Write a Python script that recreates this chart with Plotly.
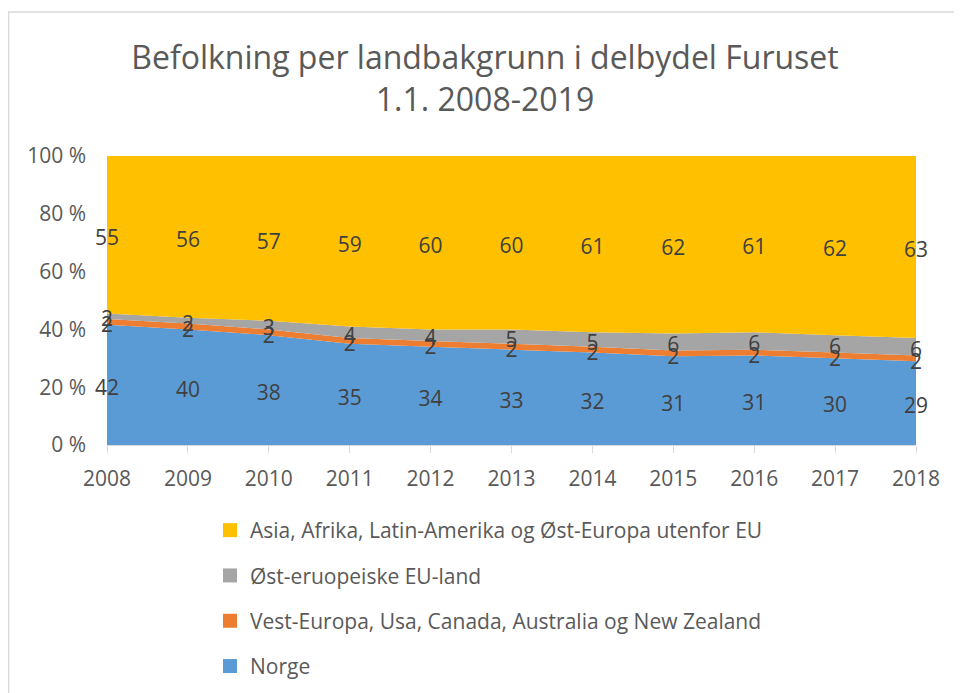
import plotly.graph_objects as go

years = [2008, 2009, 2010, 2011, 2012, 2013, 2014, 2015, 2016, 2017, 2018]
norge = [42, 40, 38, 35, 34, 33, 32, 31, 31, 30, 29]
vest = [2, 2, 2, 2, 2, 2, 2, 2, 2, 2, 2]
ost_eu = [2, 2, 3, 4, 4, 5, 5, 6, 6, 6, 6]
asia = [55, 56, 57, 59, 60, 60, 61, 62, 61, 62, 63]
y_ticks = [0, 20, 40, 60, 80, 100]
y_ticklabels = ["0 %", "20 %", "40 %", "60 %", "80 %", "100 %"]

names = [
    "Norge",
    "Vest-Europa, Usa, Canada, Australia og New Zealand",
    "Øst-eruopeiske EU-land",
    "Asia, Afrika, Latin-Amerika og Øst-Europa utenfor EU",
]
series = [norge, vest, ost_eu, asia]
colors = ["#5B9BD5", "#ED7D31", "#A5A5A5", "#FFC000"]

W, H = 954, 685
L, R, T, B = 99, 908, 148, 437  # plot area in figure pixels
PW, PH = R - L, B - T
LABEL_DROP_PX = 5  # labels sit slightly below band centre

fig = go.Figure()

for name, vals, col in zip(names, series, colors):
    fig.add_trace(go.Scatter(
        x=years, y=vals, name=name, stackgroup="one", groupnorm="percent",
        mode="none", fillcolor=col, line=dict(width=0),
        showlegend=False, hoverinfo="x+y+name",
    ))

totals = [sum(v) for v in zip(*series)]
cum = [0.0] * len(years)
drop = LABEL_DROP_PX / PH * 100
for vals in series:
    mids = []
    for i, v in enumerate(vals):
        share = v / totals[i] * 100
        mids.append(cum[i] + share / 2 - drop)
        cum[i] += share
    fig.add_trace(go.Scatter(
        x=years, y=mids, mode="text", text=[str(v) for v in vals],
        textfont=dict(family="Open Sans", size=21, color="#404040"),
        textposition="middle center", showlegend=False, hoverinfo="skip",
        cliponaxis=False,
    ))

for name, col in reversed(list(zip(names, colors))):
    fig.add_trace(go.Scatter(
        x=[None], y=[None], mode="markers", name=name,
        marker=dict(symbol="square", size=14, color=col),
        legendgroup=name, showlegend=True,
    ))

fig.update_layout(
    width=W, height=H,
    margin=dict(l=L, r=W - R, t=T, b=H - B, autoexpand=False),
    paper_bgcolor="white", plot_bgcolor="white",
    font=dict(family="Open Sans", color="#595959"),
    title=dict(
        text="Befolkning per landbakgrunn i delbydel Furuset<br>1.1. 2008-2019",
        font=dict(family="Open Sans", size=32, color="#595959"),
        x=0.5, xanchor="center", y=1 - 61 / H, yanchor="middle",
    ),
    xaxis=dict(
        range=[2008, 2018], tickmode="array", tickvals=years,
        ticktext=[str(y) for y in years],
        tickfont=dict(size=21, color="#595959"),
        showgrid=False, zeroline=False,
        showline=True, linecolor="#D9D9D9", linewidth=1,
        ticks="outside", ticklen=7, tickcolor="#D9D9D9",
        ticklabelstandoff=8,
    ),
    yaxis=dict(
        range=[0, 100], tickmode="array", tickvals=y_ticks,
        ticktext=y_ticklabels, tickfont=dict(size=21, color="#595959"),
        showgrid=False, zeroline=False, showline=False,
        ticklabelstandoff=20,
    ),
    legend=dict(
        x=(202 - L) / PW, xanchor="left",
        y=(B - 502) / PH, yanchor="top",
        orientation="v", traceorder="grouped", tracegroupgap=15,
        font=dict(family="Open Sans", size=21, color="#595959"),
        bgcolor="rgba(0,0,0,0)",
    ),
    shapes=[dict(
        type="rect", xref="paper", yref="paper",
        x0=(0.5 - L) / PW, x1=1.2, y0=-2, y1=(B - 4) / PH,
        line=dict(color="#D9D9D9", width=1.5), fillcolor="rgba(0,0,0,0)",
        layer="below",
    )],
)

fig.write_html("out.html")
